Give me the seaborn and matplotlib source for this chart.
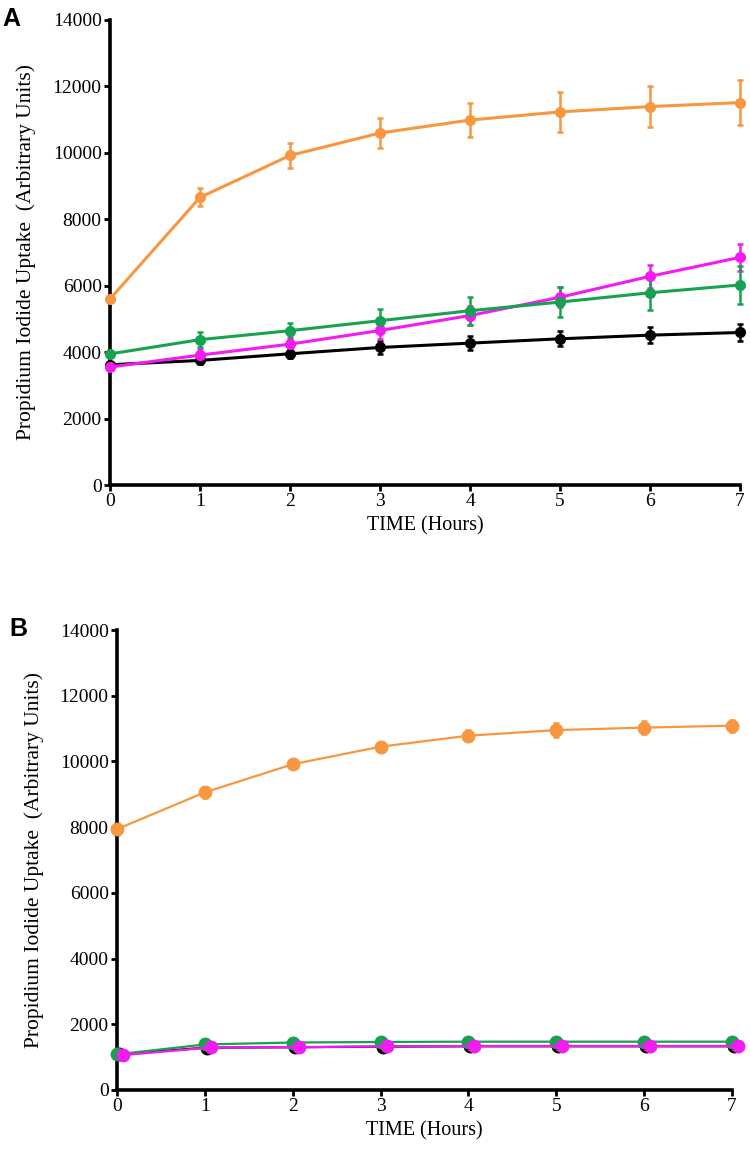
import matplotlib
matplotlib.use("Agg")
import matplotlib.pyplot as plt
import matplotlib.transforms as mtransforms
import seaborn as sns
import pandas as pd

HOURS = [0, 1, 2, 3, 4, 5, 6, 7]

# Panel A values and error bars
A_BLACK = [3620, 3750, 3950, 4140, 4270, 4400, 4510, 4590]
A_BLACK_ERR = [60, 100, 120, 190, 215, 225, 240, 270]
A_MAGENTA = [3550, 3910, 4240, 4650, 5100, 5650, 6280, 6850]
A_MAGENTA_ERR = [60, 170, 200, 270, 290, 300, 355, 400]
A_GREEN = [3945, 4375, 4645, 4945, 5245, 5505, 5785, 6020]
A_GREEN_ERR = [100, 215, 245, 345, 420, 460, 510, 560]
A_ORANGE = [5600, 8655, 9915, 10590, 10980, 11225, 11385, 11505]
A_ORANGE_ERR = [0, 270, 365, 450, 525, 590, 620, 665]

# Panel B values and error bars
B_BLACK = [1090, 1290, 1300, 1320, 1330, 1330, 1330, 1330]
B_BLACK_ERR = [40, 40, 40, 40, 40, 40, 40, 40]
B_GREEN = [1085, 1385, 1445, 1460, 1470, 1470, 1470, 1470]
B_GREEN_ERR = [40, 40, 40, 40, 40, 40, 40, 40]
B_MAGENTA = [1060, 1295, 1305, 1325, 1340, 1340, 1340, 1340]
B_MAGENTA_ERR = [40, 40, 40, 40, 40, 40, 40, 40]
B_ORANGE = [7940, 9060, 9915, 10450, 10785, 10955, 11030, 11090]
B_ORANGE_ERR = [180, 170, 120, 140, 170, 220, 200, 180]

COLORS = {"black": "#000000", "magenta": "#F21BF2", "green": "#17A24F", "orange": "#F7973F"}

sns.set_style("ticks", {"text.color": "black", "axes.labelcolor": "black",
                        "xtick.color": "black", "ytick.color": "black"})
plt.rcParams["font.family"] = ["Liberation Serif", "DejaVu Serif"]

fig = plt.figure(figsize=(7.5, 11.55), dpi=100)
axA = fig.add_axes([0.1467, 0.580, 0.8400, 0.4030])
axB = fig.add_axes([0.1560, 0.0563, 0.8200, 0.3982])


def draw_series(ax, name, vals, errs, lw, ms, offset_px=0):
    df = pd.DataFrame({"time": HOURS, "value": vals})
    n_before = len(ax.lines)
    sns.lineplot(data=df, x="time", y="value", ax=ax, color=COLORS[name],
                 linewidth=lw, marker="o", markersize=ms,
                 markeredgewidth=0, clip_on=False, zorder=3)
    eb = ax.errorbar(HOURS, vals, yerr=errs, fmt="none", ecolor=COLORS[name],
                     elinewidth=1.8, capsize=2.5, capthick=1.8, zorder=2)
    for c in eb.lines[1]:
        c.set_clip_on(False)
    for c in eb.lines[2]:
        c.set_clip_on(False)
    if offset_px:
        tr = mtransforms.offset_copy(ax.transData, fig=fig, x=offset_px, y=0, units="dots")
        for ln in ax.lines[n_before:]:
            ln.set_transform(tr)
        for c in eb.lines[2]:
            c.set_transform(tr)
        for c in eb.lines[1]:
            c.set_transform(tr)


def style_axis(ax, ypad):
    ax.set_xlim(0, 7)
    ax.set_ylim(0, 14000)
    ax.set_xticks(HOURS)
    ax.set_yticks(range(0, 14001, 2000))
    ax.set_xlabel("TIME (Hours)", fontsize=14.5, labelpad=4)
    ax.set_ylabel("Propidium Iodide Uptake  (Arbitrary Units)", fontsize=15.5, labelpad=ypad)
    ax.tick_params(axis="both", labelsize=14, width=2, length=4, pad=2, color="black",
                   labelcolor="black")
    for side in ["top", "right"]:
        ax.spines[side].set_visible(False)
    for side in ["left", "bottom"]:
        ax.spines[side].set_linewidth(2.6)
        ax.spines[side].set_color("black")
    ax.grid(False)


draw_series(axA, "black", A_BLACK, A_BLACK_ERR, 2.2, 8)
draw_series(axA, "magenta", A_MAGENTA, A_MAGENTA_ERR, 2.2, 8)
draw_series(axA, "green", A_GREEN, A_GREEN_ERR, 2.2, 8)
draw_series(axA, "orange", A_ORANGE, A_ORANGE_ERR, 2.2, 8)
style_axis(axA, 12)

draw_series(axB, "black", B_BLACK, B_BLACK_ERR, 1.6, 10, offset_px=2)
draw_series(axB, "green", B_GREEN, B_GREEN_ERR, 1.6, 10)
draw_series(axB, "magenta", B_MAGENTA, B_MAGENTA_ERR, 1.6, 10, offset_px=6)
draw_series(axB, "orange", B_ORANGE, B_ORANGE_ERR, 1.6, 10)
style_axis(axB, 11)

fig.text(0.003, 0.994, "A", fontsize=18, fontweight="bold", color="black",
         family=["Liberation Sans", "DejaVu Sans"], va="top")
fig.text(0.013, 0.466, "B", fontsize=18, fontweight="bold", color="black",
         family=["Liberation Sans", "DejaVu Sans"], va="top")

plt.savefig("out.png", dpi=100)
plt.close()
